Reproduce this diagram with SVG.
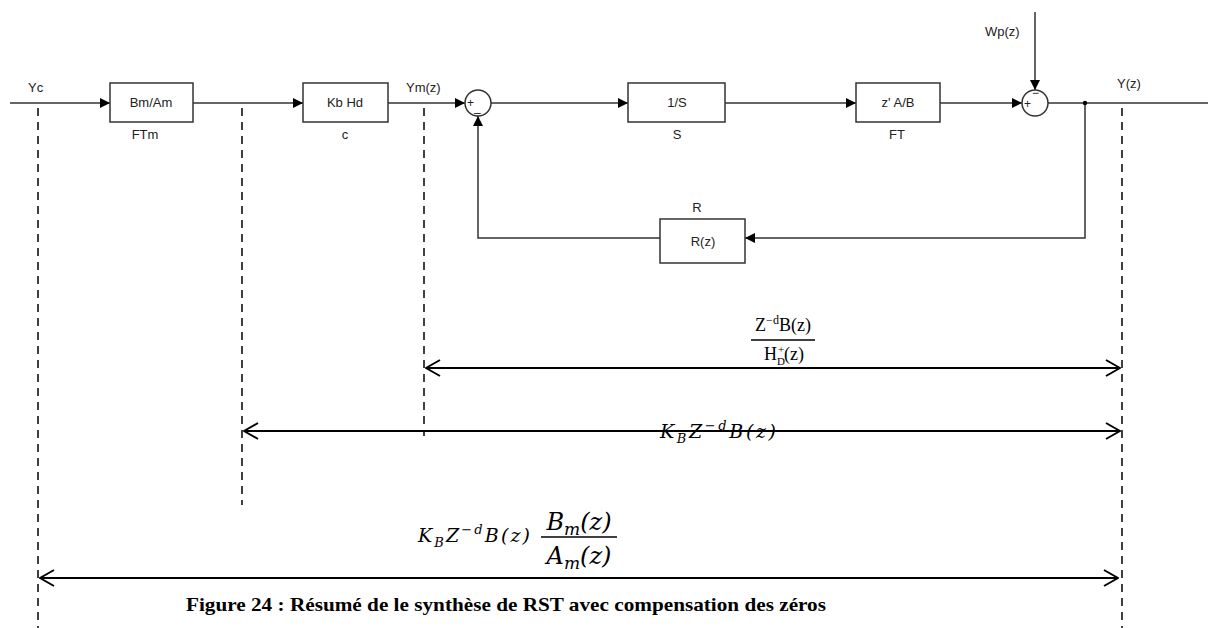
<svg xmlns="http://www.w3.org/2000/svg" width="1208" height="628" viewBox="0 0 1208 628">
<defs>
<style>
.ln{stroke:#333;stroke-width:1.5;fill:none}
.blk{fill:#fff;stroke:#333;stroke-width:1.5}
.t{font-family:"Liberation Sans",Arial,sans-serif;font-size:13px;fill:#222}
.tc{font-family:"Liberation Sans",Arial,sans-serif;font-size:13px;fill:#222;text-anchor:middle}
.sg{font-family:"Liberation Sans",Arial,sans-serif;font-size:12px;fill:#222}
.dash{stroke:#000;stroke-width:1.5;stroke-dasharray:8,6;fill:none}
.dim{stroke:#000;stroke-width:2;fill:none}
.m{font-family:"DejaVu Serif","Liberation Serif",serif;font-style:italic;fill:#000}
.mu{font-family:"Liberation Serif","Times New Roman",serif;fill:#000}
.cap{font-family:"Liberation Serif","Times New Roman",serif;font-weight:bold;font-size:19px;fill:#000}
</style>
<marker id="tri" viewBox="0 0 10 10" refX="10" refY="5" markerWidth="10" markerHeight="10" markerUnits="userSpaceOnUse" orient="auto">
<path d="M0,0 L10,5 L0,10 z" fill="#000"/>
</marker>
<marker id="chev" viewBox="0 0 16 18" refX="15" refY="9" markerWidth="16" markerHeight="18" markerUnits="userSpaceOnUse" orient="auto-start-reverse">
<path d="M1,1 L15,9 L1,17" fill="none" stroke="#000" stroke-width="2"/>
</marker>
</defs>
<rect width="1208" height="628" fill="#fff"/>

<g id="connectors">
<line class="ln" x1="10" y1="103" x2="110" y2="103" marker-end="url(#tri)"/>
<line class="ln" x1="193" y1="103" x2="303" y2="103" marker-end="url(#tri)"/>
<line class="ln" x1="388" y1="103" x2="465" y2="103" marker-end="url(#tri)"/>
<line class="ln" x1="491" y1="103" x2="628" y2="103" marker-end="url(#tri)"/>
<line class="ln" x1="725" y1="103" x2="856" y2="103" marker-end="url(#tri)"/>
<line class="ln" x1="940" y1="103" x2="1022" y2="103" marker-end="url(#tri)"/>
<line class="ln" x1="1048" y1="103" x2="1208" y2="103"/>
<line class="ln" x1="1035" y1="12" x2="1035" y2="90" marker-end="url(#tri)"/>
<polyline class="ln" points="1085,103 1085,238 745,238" marker-end="url(#tri)"/>
<polyline class="ln" points="660,238 478,238 478,116" marker-end="url(#tri)"/>
<circle cx="1085" cy="103" r="2.2" fill="#000"/>
</g>

<g id="Yc"><text class="t" x="28" y="92">Yc</text></g>
<g id="FTm">
<rect class="blk" x="110" y="83" width="83" height="39"/>
<text class="tc" x="151" y="107">Bm/Am</text>
<text class="tc" x="145" y="139">FTm</text>
</g>
<g id="C">
<rect class="blk" x="303" y="83" width="85" height="39"/>
<text class="tc" x="345" y="107">Kb Hd</text>
<text class="tc" x="345" y="139">c</text>
</g>
<g id="Ym"><text class="t" x="406" y="92">Ym(z)</text></g>
<g id="sum1">
<circle class="blk" cx="478" cy="103" r="13"/>
<text class="sg" x="467" y="107">+</text>
<text class="sg" x="474" y="111">_</text>
</g>
<g id="S">
<rect class="blk" x="628" y="83" width="97" height="39"/>
<text class="tc" x="677" y="107">1/S</text>
<text class="tc" x="677" y="139">S</text>
</g>
<g id="FT">
<rect class="blk" x="856" y="83" width="84" height="39"/>
<text class="tc" x="898" y="107">z' A/B</text>
<text class="tc" x="897" y="139">FT</text>
</g>
<g id="Wp"><text class="t" x="985" y="36">Wp(z)</text></g>
<g id="sum2">
<circle class="blk" cx="1035" cy="103" r="13"/>
<text class="sg" x="1024" y="108">+</text>
<text class="sg" x="1032" y="97">−</text>
</g>
<g id="Y"><text class="t" x="1117" y="88">Y(z)</text></g>
<g id="R">
<rect class="blk" x="660" y="219" width="85" height="44"/>
<text class="tc" x="703" y="246">R(z)</text>
<text class="tc" x="697" y="212">R</text>
</g>

<g id="dashes">
<line class="dash" x1="38" y1="108" x2="38" y2="628"/>
<line class="dash" x1="242" y1="108" x2="242" y2="505"/>
<line class="dash" x1="424" y1="108" x2="424" y2="436"/>
<line class="dash" x1="1122" y1="108" x2="1122" y2="628"/>
</g>

<g id="dim1">
<line class="dim" x1="426" y1="368" x2="1120" y2="368" marker-start="url(#chev)" marker-end="url(#chev)"/>
<text class="mu" x="783" y="331" style="font-size:18px" text-anchor="middle">Z<tspan dy="-7" style="font-size:12px">−d</tspan><tspan dy="7">B(z)</tspan></text>
<line x1="751" y1="340" x2="815" y2="340" stroke="#000" stroke-width="1.5"/>
<text class="mu" x="784" y="360" style="font-size:18px" text-anchor="middle">H<tspan dy="5" style="font-size:11px">D</tspan><tspan dx="-7" dy="-12" style="font-size:11px">+</tspan><tspan dy="7">(z)</tspan></text>
</g>

<g id="dim2">
<line class="dim" x1="244" y1="431" x2="1120" y2="431" marker-start="url(#chev)" marker-end="url(#chev)"/>
<text class="m" x="660" y="438" style="font-size:19px" textLength="116" lengthAdjust="spacing">K<tspan dy="5" style="font-size:13px">B</tspan><tspan dy="-5">Z</tspan><tspan dy="-8" style="font-size:13px">−d</tspan><tspan dy="8">B(z)</tspan></text>
</g>

<g id="dim3">
<line class="dim" x1="40" y1="578" x2="1118" y2="578" marker-start="url(#chev)" marker-end="url(#chev)"/>
<text class="m" x="418" y="542" style="font-size:19px" textLength="112" lengthAdjust="spacing">K<tspan dy="5" style="font-size:13px">B</tspan><tspan dy="-5">Z</tspan><tspan dy="-8" style="font-size:13px">−d</tspan><tspan dy="8">B(z)</tspan></text>
<text class="m" x="579" y="530" style="font-size:24px" text-anchor="middle">B<tspan dy="5" style="font-size:17px">m</tspan><tspan dy="-5">(z)</tspan></text>
<line x1="541" y1="537" x2="617" y2="537" stroke="#000" stroke-width="1.6"/>
<text class="m" x="579" y="564" style="font-size:24px" text-anchor="middle">A<tspan dy="5" style="font-size:17px">m</tspan><tspan dy="-5">(z)</tspan></text>
</g>

<g id="caption">
<text class="cap" x="186" y="611" textLength="640" lengthAdjust="spacingAndGlyphs">Figure 24 : Résumé de le synthèse de RST avec compensation des zéros</text>
</g>
</svg>
